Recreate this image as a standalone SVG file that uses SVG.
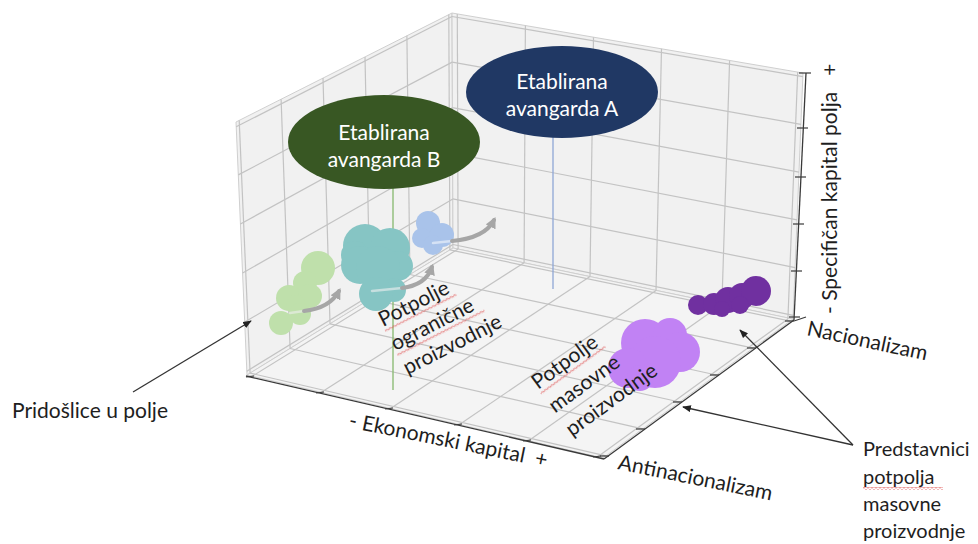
<svg xmlns="http://www.w3.org/2000/svg" width="978" height="544" viewBox="0 0 978 544">
<style>
.pane{fill:#f1f1f1;stroke:#cfcfcf;stroke-width:1}
.floor{fill:#f4f4f4;stroke:#cfcfcf;stroke-width:1}
.grid line{stroke:#c3c3c3;stroke-width:1.2}
.axis{stroke:#3a3a3a;stroke-width:1.3;fill:none}
.tick line{stroke:#3a3a3a;stroke-width:1.2}
text{font-family:Lato,"Liberation Sans",sans-serif;fill:#1e1e1e}
.lbl{font-size:21px}
.etext{font-size:21px;fill:#ffffff;text-anchor:middle}
.garrow{fill:none;stroke:#a6a6a6;stroke-width:4;stroke-linecap:round}
.barrow{fill:none;stroke:#333;stroke-width:1.3}
.wavy{fill:url(#wavy)}
.hl{fill:none;stroke-width:2.5;stroke-linecap:round}
</style>
<defs>
<marker id="ahg" viewBox="0 0 10 10" refX="7" refY="5" markerWidth="11" markerHeight="11" markerUnits="userSpaceOnUse" orient="auto"><path d="M0,0 L10,5 L0,10 z" fill="#a6a6a6"/></marker>
<marker id="ahb" viewBox="0 0 10 8" refX="9" refY="4" markerWidth="9" markerHeight="7" markerUnits="userSpaceOnUse" orient="auto"><path d="M0,0 L10,4 L0,8 z" fill="#222"/></marker>
<pattern id="wavy" width="4" height="3" patternUnits="userSpaceOnUse"><path d="M0,2.2 L2,0.6 L4,2.2" fill="none" stroke="#e05050" stroke-width="0.8"/></pattern>
</defs>
<rect width="978" height="544" fill="#ffffff"/>

<g id="panes">
<polygon class="pane" points="247,375 453,248 452,13 236,122"/>
<polygon class="pane" points="453,248 793,319 803,73 452,13"/>
<polygon class="floor" points="247,375 603,458 793,319 453,248"/>
</g>

<g id="grid" class="grid">
<line x1="252.3" y1="376.2" x2="458.1" y2="249.1"/>
<line x1="321.4" y1="392.3" x2="524.1" y2="262.8"/>
<line x1="390.5" y1="408.4" x2="590.0" y2="276.6"/>
<line x1="459.5" y1="424.6" x2="656.0" y2="290.4"/>
<line x1="528.6" y1="440.7" x2="721.9" y2="304.2"/>
<line x1="597.7" y1="456.8" x2="787.9" y2="318.9"/>
<line x1="250.1" y1="373.1" x2="605.9" y2="455.9"/>
<line x1="290.1" y1="348.5" x2="642.7" y2="428.9"/>
<line x1="330.0" y1="323.8" x2="679.6" y2="402.0"/>
<line x1="370.0" y1="299.2" x2="716.4" y2="375.0"/>
<line x1="409.9" y1="274.5" x2="753.3" y2="348.1"/>
<line x1="449.9" y1="249.9" x2="790.2" y2="321.1"/>
<line x1="453.0" y1="244.5" x2="793.2" y2="315.3"/>
<line x1="452.8" y1="198.9" x2="795.1" y2="267.6"/>
<line x1="452.6" y1="153.3" x2="797.0" y2="219.9"/>
<line x1="452.4" y1="107.7" x2="799.0" y2="172.1"/>
<line x1="452.2" y1="62.1" x2="800.9" y2="124.4"/>
<line x1="452.0" y1="16.5" x2="802.9" y2="76.7"/>
<line x1="458.1" y1="249.1" x2="457.3" y2="13.9"/>
<line x1="524.1" y1="262.8" x2="525.4" y2="25.5"/>
<line x1="590.0" y1="276.6" x2="593.5" y2="37.2"/>
<line x1="656.0" y1="290.4" x2="661.5" y2="48.8"/>
<line x1="721.9" y1="304.2" x2="729.6" y2="60.5"/>
<line x1="787.9" y1="318.9" x2="797.7" y2="72.1"/>
<line x1="250.1" y1="373.1" x2="239.2" y2="120.4"/>
<line x1="290.1" y1="348.5" x2="281.1" y2="99.2"/>
<line x1="330.0" y1="323.8" x2="323.0" y2="78.1"/>
<line x1="370.0" y1="299.2" x2="365.0" y2="56.9"/>
<line x1="409.9" y1="274.5" x2="406.9" y2="35.8"/>
<line x1="449.9" y1="249.9" x2="448.8" y2="14.6"/>
<line x1="246.8" y1="371.2" x2="453.0" y2="244.5"/>
<line x1="244.7" y1="322.1" x2="452.8" y2="198.9"/>
<line x1="242.6" y1="273.0" x2="452.6" y2="153.3"/>
<line x1="240.4" y1="224.0" x2="452.4" y2="107.7"/>
<line x1="238.3" y1="174.9" x2="452.2" y2="62.1"/>
<line x1="236.2" y1="126.8" x2="452.0" y2="16.5"/>
</g>

<g id="axes">
<line class="axis" x1="246" y1="376" x2="604" y2="459"/>
<line class="axis" x1="604" y1="459" x2="794" y2="320"/>
<line class="axis" x1="794" y1="320" x2="806" y2="73"/>
<g class="tick">
<line x1="246" y1="377" x2="254" y2="376"/>
<line x1="316" y1="393" x2="324" y2="392"/>
<line x1="385" y1="409" x2="393" y2="408"/>
<line x1="454" y1="425" x2="462" y2="424"/>
<line x1="523" y1="441" x2="531" y2="440"/>
<line x1="593" y1="457" x2="601" y2="456"/>
<line x1="600" y1="456" x2="609" y2="456"/>
<line x1="636" y1="429" x2="645" y2="429"/>
<line x1="673" y1="402" x2="682" y2="402"/>
<line x1="710" y1="375" x2="719" y2="375"/>
<line x1="747" y1="348" x2="756" y2="348"/>
<line x1="785" y1="321" x2="794" y2="321"/>
<line x1="794" y1="321" x2="806" y2="317"/>
<line x1="789" y1="317" x2="800" y2="317"/>
<line x1="791" y1="271" x2="802" y2="271"/>
<line x1="793" y1="224" x2="804" y2="224"/>
<line x1="795" y1="177" x2="806" y2="177"/>
<line x1="797" y1="128" x2="808" y2="128"/>
<line x1="799" y1="73" x2="811" y2="73"/>
</g>
</g>

<g id="connectors">
<line x1="553" y1="137" x2="553" y2="289" stroke="#8fa7d6" stroke-width="1.3"/>
<line x1="393" y1="188" x2="393" y2="390" stroke="#86b86e" stroke-width="1.3"/>
</g>

<g id="cluster-pridoslice" fill="#bfe0ab">
<circle cx="318" cy="268" r="17"/>
<circle cx="305" cy="283" r="12"/>
<circle cx="289" cy="298" r="13"/>
<circle cx="310" cy="296" r="12"/>
<circle cx="296" cy="305" r="10"/>
<circle cx="300" cy="314" r="11"/>
<circle cx="281" cy="323" r="12"/>
</g>
<g id="cluster-ogranicna" fill="#86c5c4">
<circle cx="365" cy="246" r="22"/>
<circle cx="390" cy="248" r="20"/>
<circle cx="355" cy="255" r="14"/>
<circle cx="360" cy="265" r="19"/>
<circle cx="398" cy="266" r="15"/>
<circle cx="378" cy="268" r="22"/>
<circle cx="394" cy="290" r="12"/>
<circle cx="376" cy="294" r="17"/>
</g>
<g id="cluster-lightblue" fill="#a9c3ea">
<circle cx="428" cy="223" r="12"/>
<circle cx="422" cy="238" r="10"/>
<circle cx="442" cy="235" r="12"/>
<circle cx="433" cy="245" r="10"/>
</g>
<g id="cluster-masovna" fill="#c182f4">
<circle cx="645" cy="343" r="24"/>
<circle cx="670" cy="335" r="17"/>
<circle cx="680" cy="352" r="20"/>
<circle cx="655" cy="362" r="26"/>
<circle cx="628" cy="368" r="20"/>
<circle cx="640" cy="378" r="13"/>
</g>
<g id="cluster-predstavnici" fill="#7030a0">
<circle cx="698" cy="305" r="10"/>
<circle cx="714" cy="304" r="11"/>
<circle cx="728" cy="300" r="13"/>
<circle cx="742" cy="296" r="13"/>
<circle cx="756" cy="291" r="15"/>
<circle cx="722" cy="309" r="8"/>
<circle cx="740" cy="305" r="9"/>
</g>

<g id="flow-arrows">
<path class="hl" d="M290,313 L304,311" stroke="#dbe9d3"/>
<path class="garrow" d="M304,311 Q330,308 339,291" marker-end="url(#ahg)"/>
<path class="hl" d="M372,291 L402,288" stroke="#c6dfdf"/>
<path class="garrow" d="M402,288 Q426,285 432,267" marker-end="url(#ahg)"/>
<path class="hl" d="M433,243 L452,241" stroke="#d5e2f5"/>
<path class="garrow" d="M452,241 Q485,238 494,220" marker-end="url(#ahg)"/>
</g>

<g id="node-avangarda-a">
<ellipse cx="562" cy="92" rx="96" ry="46" fill="#203864"/>
<text class="etext" x="562" y="89">Etablirana</text>
<text class="etext" x="562" y="116">avangarda A</text>
</g>
<g id="node-avangarda-b">
<ellipse cx="384" cy="142" rx="96" ry="47" fill="#385723"/>
<text class="etext" x="384" y="140">Etablirana</text>
<text class="etext" x="384" y="167">avangarda B</text>
</g>

<g id="label-potpolje-ogranicne" transform="translate(383,327) rotate(-27)">
<rect class="wavy" x="0" y="3" width="80" height="3"/>
<rect class="wavy" x="0" y="30" width="98" height="3"/>
<text class="lbl" x="0" y="0">Potpolje</text>
<text class="lbl" x="0" y="27">ogranične</text>
<text class="lbl" x="0" y="54">proizvodnje</text>
</g>
<g id="label-potpolje-masovne" transform="translate(538,390) rotate(-36)">
<rect class="wavy" x="0" y="3" width="80" height="3"/>
<text class="lbl" x="0" y="0">Potpolje</text>
<text class="lbl" x="0" y="29">masovne</text>
<text class="lbl" x="0" y="58">proizvodnje</text>
</g>

<g id="axis-labels">
<text class="lbl" transform="translate(348,427) rotate(11.5)" xml:space="preserve">- Ekonomski kapital  +</text>
<text class="lbl" transform="translate(617,469) rotate(11.5)">Antinacionalizam</text>
<text class="lbl" transform="translate(806,335) rotate(12)">Nacionalizam</text>
<text class="lbl" transform="translate(837,314) rotate(-90)" xml:space="preserve">- Specifičan kapital polja   +</text>
</g>

<g id="annotation-pridoslice">
<line class="barrow" x1="133" y1="392" x2="251" y2="321" marker-end="url(#ahb)"/>
<text class="lbl" x="12" y="418">Pridošlice u polje</text>
</g>
<g id="annotation-predstavnici">
<line class="barrow" x1="853" y1="445" x2="740" y2="330" marker-end="url(#ahb)"/>
<line class="barrow" x1="853" y1="445" x2="683" y2="407" marker-end="url(#ahb)"/>
<rect class="wavy" x="863" y="487" width="80" height="3"/>
<text class="lbl" font-size="20" x="863" y="456" style="font-size:20px">Predstavnici</text>
<text class="lbl" x="863" y="484" style="font-size:20px">potpolja</text>
<text class="lbl" x="863" y="511" style="font-size:20px">masovne</text>
<text class="lbl" x="863" y="538" style="font-size:20px">proizvodnje</text>
</g>
</svg>
